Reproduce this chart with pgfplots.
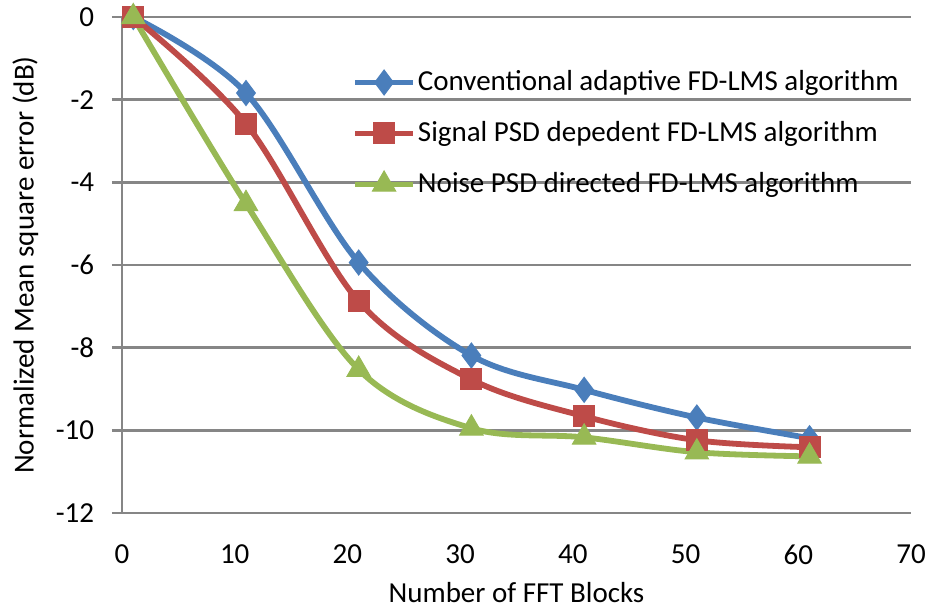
\documentclass[border=0pt]{standalone}
\usepackage{pgfplots}
\pgfplotsset{compat=1.18}
\usepackage{fontspec}
\setmainfont{Carlito}
\definecolor{cblue}{HTML}{4A7EBB}
\definecolor{cred}{HTML}{BE4B48}
\definecolor{cgreen}{HTML}{98B954}
\definecolor{cgrid}{HTML}{868686}
\begin{document}
\fontsize{29bp}{35bp}\selectfont
\begin{tikzpicture}
\begin{axis}[
  scale only axis,
  width=789bp, height=496bp,
  xmin=0, xmax=70, ymin=-12, ymax=0,
  xtick={0,10,...,70}, ytick={-12,-10,...,0},
  axis x line*=bottom, axis y line*=left,
  axis line style={cgrid, line width=2.4bp},
  ymajorgrids, grid style={cgrid, line width=2.4bp},
  major tick length=10bp,
  xtick style={draw=none},
  ytick style={cgrid, line width=2.4bp},
  tick align=outside,
  /pgf/number format/assume math mode=true,
  ticklabel style={font=\fontsize{29bp}{35bp}\selectfont},
  xticklabel style={yshift=-12bp},
  yticklabel style={xshift=-8bp},
  label style={font=\fontsize{29bp}{35bp}\selectfont},
  xlabel={Number of FFT Blocks},
  ylabel={Normalized Mean square error (dB)},
  xlabel style={yshift=2bp},
  ylabel style={yshift=-2bp},
  clip=false,
  legend style={draw=none, fill=none, at={(0.2915,0.897)}, anchor=north west,
    font=\fontsize{29bp}{35bp}\selectfont, row sep=22.5bp, inner sep=0pt,
    /tikz/every even column/.append style={column sep=0pt}},
  legend cell align=left,
  legend image code/.code={\draw[mark repeat=2,mark phase=2] plot coordinates {(0bp,0bp) (29bp,0bp) (58bp,0bp)};},
  every axis plot/.append style={line width=5.8bp, smooth, tension=0.55},
]
\addplot[cblue, mark=diamond*, mark size=12.5bp, mark options={line width=1bp}] coordinates {
(1,0) (11,-1.84) (21,-5.94) (31,-8.19) (41,-9.02) (51,-9.69) (61,-10.19)};
\addlegendentry{Conventional adaptive FD-LMS algorithm}
\addplot[cred, mark=square*, mark size=10.5bp, mark options={line width=1bp}] coordinates {
(1,0) (11,-2.58) (21,-6.88) (31,-8.77) (41,-9.66) (51,-10.24) (61,-10.41)};
\addlegendentry{Signal PSD depedent FD-LMS algorithm}
\addplot[cgreen, mark=triangle*, mark size=13.5bp, mark options={line width=1bp}] coordinates {
(1,0) (11,-4.52) (21,-8.53) (31,-9.95) (41,-10.17) (51,-10.53) (61,-10.63)};
\addlegendentry{Noise PSD directed FD-LMS algorithm}
\coordinate (bl) at (rel axis cs:0,0);
\coordinate (tr) at (rel axis cs:1,1);
\end{axis}
\pgfresetboundingbox
\path ([shift={(-122bp,-98bp)}]bl) rectangle ([shift={(19bp,17bp)}]tr);
\end{tikzpicture}
\end{document}
